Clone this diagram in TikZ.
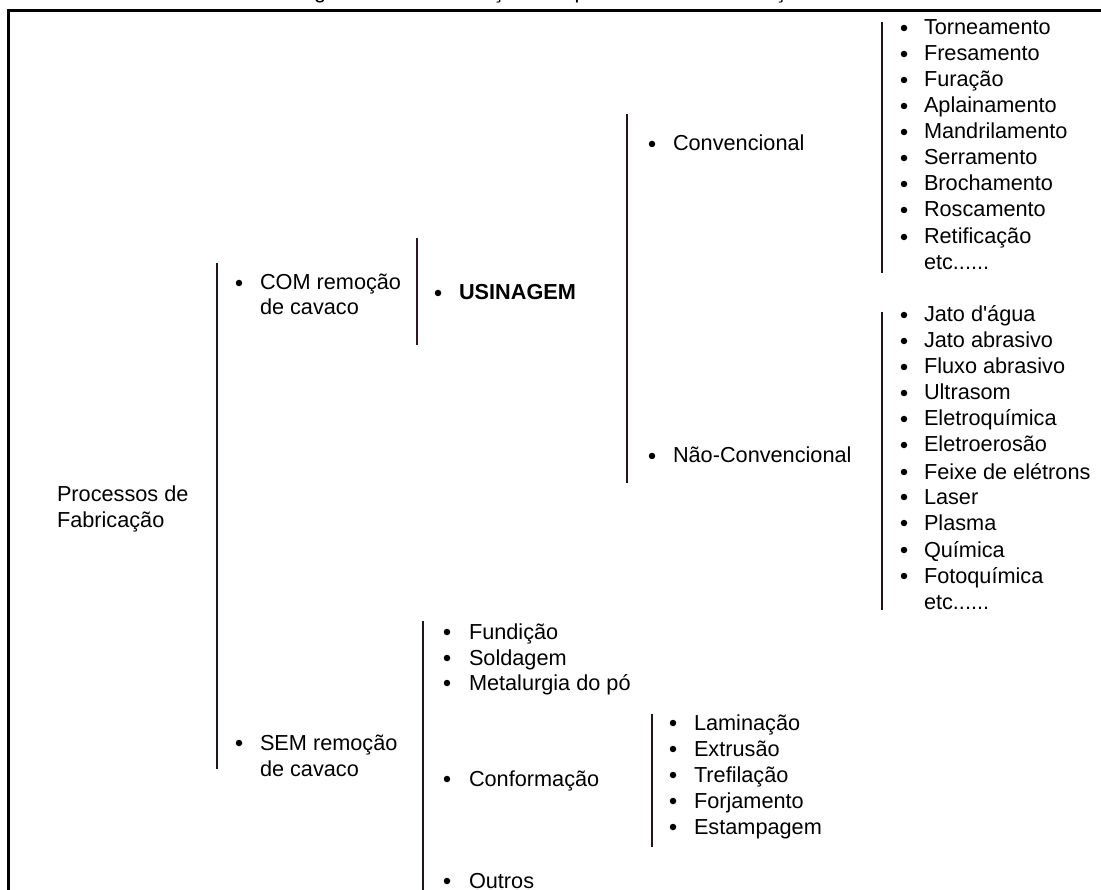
\documentclass[tikz,border=0pt]{standalone}
\usepackage{fontspec}
\setmainfont{Liberation Sans}
\begin{document}
\begin{tikzpicture}[x=1pt,y=-1pt,
  lbl/.style={anchor=base west, inner sep=0pt, outer sep=0pt, font=\fontsize{21.7}{26}\selectfont},
  dot/.style={circle, fill=black, inner sep=0pt, minimum size=6.5pt},
  brk/.style={line width=1.9pt, draw={rgb,255:red,35;green,20;blue,25}},
  brkthick/.style={line width=2.8pt, draw={rgb,255:red,45;green,25;blue,35}},
  framestyle/.style={line width=2.8pt}]
\useasboundingbox (0,0) rectangle (1101,890);
\begin{scope}
\clip (0,0) rectangle (1101,890);
% cut-off caption and frame
\node[lbl, anchor=base] (title) at (553,-1.5) {Figura 1 – Classificação dos processos de fabricação};
\coordinate (fbl) at (8.5,900);
\coordinate (ftl) at (8.5,10.5);
\coordinate (ftr) at (1110,10.5);
\draw[framestyle] (fbl) -- (ftl) -- (ftr);

% root
\node[lbl] (root1) at (57,502) {Processos de};
\node[lbl] (root2) at (57,527) {Fabricação};

% level 1 bracket
\coordinate (b1t) at (217,263);
\coordinate (b1b) at (217,769);
\draw[brk] (b1t) -- (b1b);
\node[dot] (comd) at (239,283) {};
\node[lbl] (com1) at (260,290) {COM remoção};
\node[lbl] (com2) at (260,315) {de cavaco};
\node[dot] (semd) at (239,743) {};
\node[lbl] (sem1) at (260,750) {SEM remoção};
\node[lbl] (sem2) at (260,776) {de cavaco};

% USINAGEM
\coordinate (b2t) at (417,238);
\coordinate (b2b) at (417,345);
\draw[brkthick] (b2t) -- (b2b);
\node[dot] (usid) at (438,293) {};
\node[lbl, font=\fontsize{21.7}{26}\selectfont\bfseries] (usi) at (459,300) {USINAGEM};

% Convencional / Nao-Convencional
\coordinate (b3t) at (627,114);
\coordinate (b3b) at (627,483);
\draw[brk] (b3t) -- (b3b);
\node[dot] (convd) at (652,144) {};
\node[lbl] (conv) at (673,151) {Convencional};
\node[dot] (ncond) at (652,456) {};
\node[lbl] (ncon) at (673,463) {Não-Convencional};

% conventional processes
\coordinate (b4t) at (882,22);
\coordinate (b4b) at (882,273);
\draw[brk] (b4t) -- (b4b);
\foreach \t/\y [count=\i] in {Torneamento/28, Fresamento/54, Furação/80, Aplainamento/106, Mandrilamento/132, Serramento/158, Brochamento/184, Roscamento/210, Retificação/237}{
  \node[dot] (cd\i) at (904,\y) {};
  \node[lbl] (ct\i) at (924,\y+7) {\t};
}
\node[lbl] (cetc) at (924,270) {etc......};

% non-conventional processes
\coordinate (b5t) at (882,312);
\coordinate (b5b) at (882,610);
\draw[brk] (b5t) -- (b5b);
\foreach \t/\y [count=\i] in {{Jato d\textquotesingle água}/315, Jato abrasivo/341, Fluxo abrasivo/367, Ultrasom/393, Eletroquímica/419, Eletroerosão/445, Feixe de elétrons/472, Laser/497, Plasma/523, Química/550, Fotoquímica/576}{
  \node[dot] (nd\i) at (904,\y) {};
  \node[lbl] (nt\i) at (924,\y+7) {\t};
}
\node[lbl] (netc) at (924,609) {etc......};

% SEM remocao branch
\coordinate (b6t) at (423,621);
\coordinate (b6b) at (423,900);
\draw[brk] (b6t) -- (b6b);
\foreach \t/\y [count=\i] in {Fundição/632, Soldagem/658, Metalurgia do pó/683, Conformação/779, Outros/881}{
  \node[dot] (sd\i) at (447,\y) {};
  \node[lbl] (st\i) at (469,\y+7) {\t};
}

% Conformacao processes
\coordinate (b7t) at (652,714);
\coordinate (b7b) at (652,847);
\draw[brk] (b7t) -- (b7b);
\foreach \t/\y [count=\i] in {Laminação/723, Extrusão/749, Trefilação/775, Forjamento/801, Estampagem/827}{
  \node[dot] (fd\i) at (673,\y) {};
  \node[lbl] (ft\i) at (694,\y+7) {\t};
}
\end{scope}
\end{tikzpicture}
\end{document}
